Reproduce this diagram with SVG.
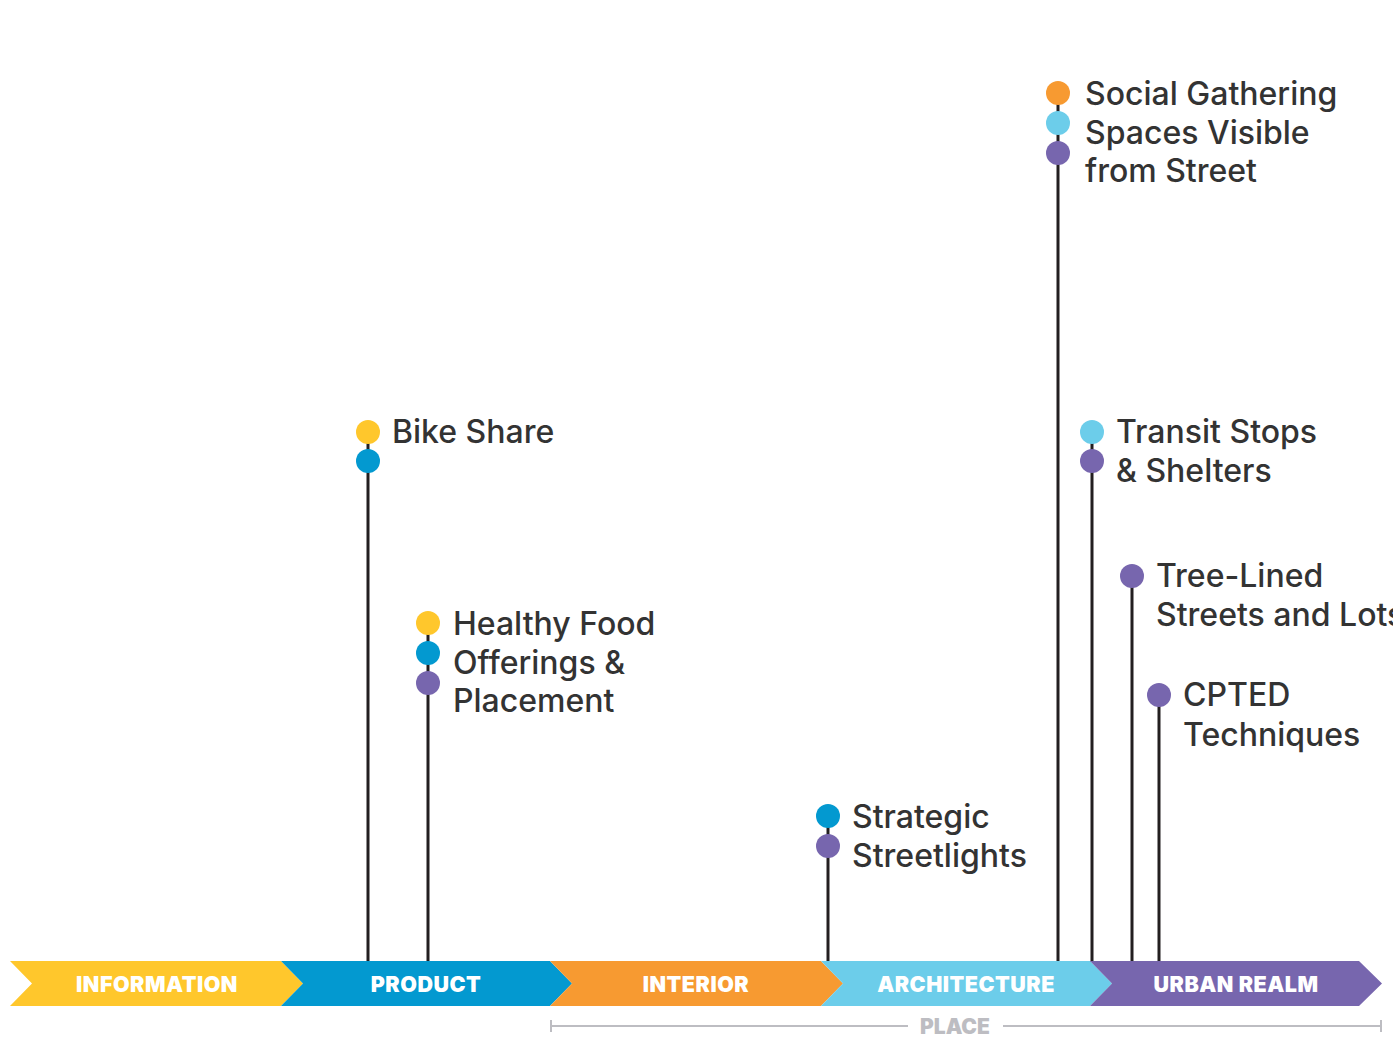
<svg xmlns="http://www.w3.org/2000/svg" width="1393" height="1041" viewBox="0 0 1393 1041">
<style>
.stem{stroke:#231F20;stroke-width:3;fill:none}
.lbl{font-family:Inter,"Noto Sans",sans-serif;font-weight:500;font-size:32px;fill:#333333}
.band{font-family:Inter,"Open Sans",sans-serif;font-weight:900;font-size:21.5px;letter-spacing:0.5px;fill:#FFFFFF;text-anchor:middle}
.place{font-family:Inter,"Open Sans",sans-serif;font-weight:900;font-size:21px;fill:#BDBDC2;text-anchor:middle}
.y{fill:#FFC72C}.b{fill:#0399D0}.o{fill:#F79A31}.lb{fill:#6CCDEA}.p{fill:#7766AE}
</style>
<rect width="1393" height="1041" fill="#FFFFFF"/>
<g id="connectors">
<line class="stem" x1="368" y1="432" x2="368" y2="962"/>
<line class="stem" x1="428" y1="623" x2="428" y2="962"/>
<line class="stem" x1="828" y1="816" x2="828" y2="962"/>
<line class="stem" x1="1058" y1="93" x2="1058" y2="962"/>
<line class="stem" x1="1092" y1="432" x2="1092" y2="962"/>
<line class="stem" x1="1132" y1="576" x2="1132" y2="962"/>
<line class="stem" x1="1159" y1="695" x2="1159" y2="962"/>
</g>
<g id="band-information"><polygon class="y" points="10,961 281,961 303,983.5 281,1006 10,1006 32,983.5"/><text class="band" x="157" y="992">INFORMATION</text></g>
<g id="band-product"><polygon class="b" points="281,961 550,961 572,983.5 550,1006 281,1006 303,983.5"/><text class="band" x="426" y="992">PRODUCT</text></g>
<g id="band-interior"><polygon class="o" points="550,961 821,961 843,983.5 821,1006 550,1006 572,983.5"/><text class="band" x="696" y="992">INTERIOR</text></g>
<g id="band-architecture"><polygon class="lb" points="821,961 1090,961 1112,983.5 1090,1006 821,1006 843,983.5"/><text class="band" x="966" y="992">ARCHITECTURE</text></g>
<g id="band-urban"><polygon class="p" points="1090,961 1359,961 1382,983.5 1359,1006 1090,1006 1112,983.5"/><text class="band" x="1236" y="992">URBAN REALM</text></g>
<g id="place">
<line x1="551" y1="1026" x2="908" y2="1026" stroke="#BDBDC2" stroke-width="2"/>
<line x1="1003" y1="1026" x2="1381" y2="1026" stroke="#BDBDC2" stroke-width="2"/>
<line x1="551" y1="1020" x2="551" y2="1032" stroke="#BDBDC2" stroke-width="2"/>
<line x1="1381" y1="1020" x2="1381" y2="1032" stroke="#BDBDC2" stroke-width="2"/>
<text class="place" x="955" y="1034">PLACE</text>
</g>
<g id="node-social"><circle class="o" cx="1058" cy="93" r="12"/><circle class="lb" cx="1058" cy="123" r="12"/><circle class="p" cx="1058" cy="153" r="12"/>
<text class="lbl"><tspan x="1085" y="105">Social Gathering</tspan><tspan x="1085" y="144">Spaces Visible</tspan><tspan x="1085" y="182">from Street</tspan></text></g>
<g id="node-bike"><circle class="y" cx="368" cy="432" r="12"/><circle class="b" cx="368" cy="461" r="12"/>
<text class="lbl" x="392" y="443">Bike Share</text></g>
<g id="node-healthy"><circle class="y" cx="428" cy="623" r="12"/><circle class="b" cx="428" cy="653" r="12"/><circle class="p" cx="428" cy="683" r="12"/>
<text class="lbl"><tspan x="453" y="635">Healthy Food</tspan><tspan x="453" y="674">Offerings &amp;</tspan><tspan x="453" y="712">Placement</tspan></text></g>
<g id="node-strategic"><circle class="b" cx="828" cy="816" r="12"/><circle class="p" cx="828" cy="846" r="12"/>
<text class="lbl"><tspan x="852" y="828">Strategic</tspan><tspan x="852" y="867">Streetlights</tspan></text></g>
<g id="node-transit"><circle class="lb" cx="1092" cy="432" r="12"/><circle class="p" cx="1092" cy="461" r="12"/>
<text class="lbl"><tspan x="1116" y="443">Transit Stops</tspan><tspan x="1116" y="482">&amp; Shelters</tspan></text></g>
<g id="node-tree"><circle class="p" cx="1132" cy="576" r="12"/>
<text class="lbl"><tspan x="1156" y="587">Tree-Lined</tspan><tspan x="1156" y="626">Streets and Lots</tspan></text></g>
<g id="node-cpted"><circle class="p" cx="1159" cy="695" r="12"/>
<text class="lbl"><tspan x="1183" y="706">CPTED</tspan><tspan x="1183" y="746">Techniques</tspan></text></g>
</svg>
